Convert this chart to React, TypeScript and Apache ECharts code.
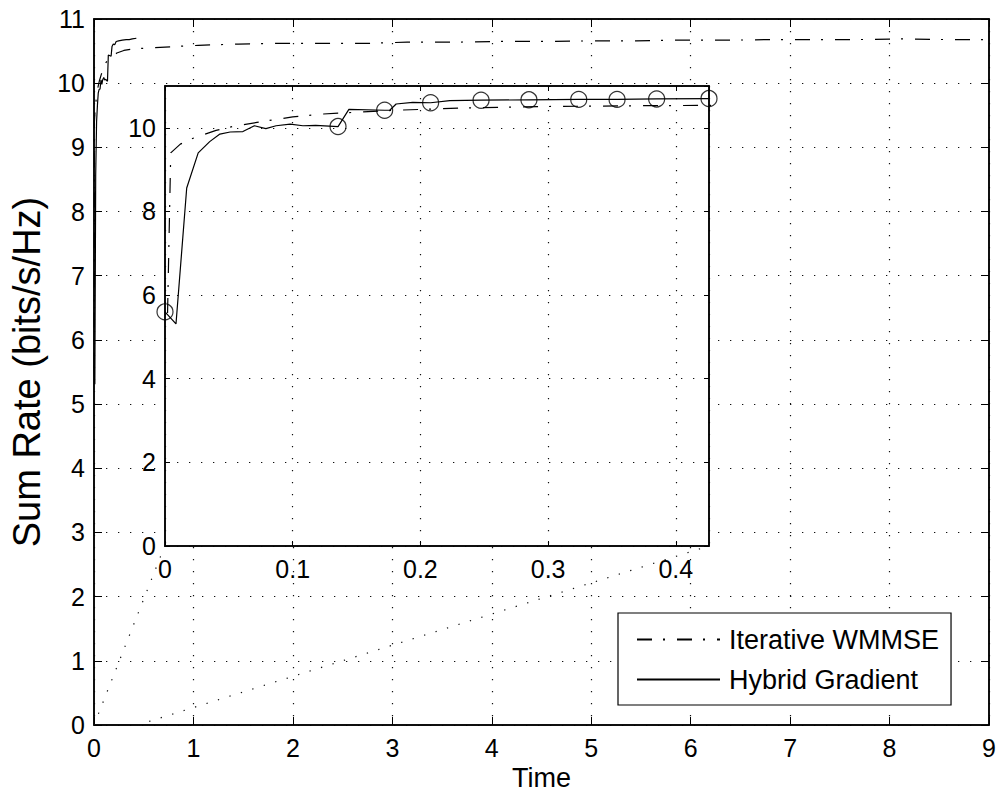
import React, { useEffect, useRef } from 'react';
import * as echarts from 'echarts';

const FONT = '"Liberation Sans", Arial, Helvetica, sans-serif';

// ---- data ----
const seriesNames = ['Iterative WMMSE', 'Hybrid Gradient'];

const wmmseTime = [0.002, 0.0045, 0.012, 0.022, 0.040, 0.053, 0.072, 0.100, 0.124, 0.142, 0.18, 0.23, 0.30, 0.38, 0.45, 0.8, 1.05, 1.45, 1.85, 2.35, 2.75, 3.15, 3.65, 4.1, 4.5, 5.05, 5.45, 5.85, 6.4, 6.8, 7.2, 7.7, 8.15, 8.55, 9.0];
const wmmseRate = [5.57, 9.40, 9.61, 9.75, 9.94, 10.03, 10.13, 10.26, 10.33, 10.36, 10.42, 10.47, 10.51, 10.53, 10.54, 10.57, 10.59, 10.61, 10.62, 10.62, 10.62, 10.64, 10.64, 10.65, 10.65, 10.66, 10.66, 10.67, 10.67, 10.68, 10.68, 10.68, 10.69, 10.68, 10.68];

const hybridTime = [0, 0.0086, 0.017, 0.026, 0.035, 0.043, 0.051, 0.061, 0.070, 0.079, 0.087, 0.098, 0.108, 0.118, 0.1355, 0.144, 0.172, 0.176, 0.181, 0.194, 0.208, 0.223, 0.2475, 0.285, 0.324, 0.354, 0.385, 0.426];
const hybridRate = [5.60, 5.31, 8.56, 9.40, 9.67, 9.85, 9.90, 9.91, 10.05, 9.98, 10.05, 10.09, 10.05, 10.06, 10.03, 10.44, 10.42, 10.42, 10.57, 10.61, 10.60, 10.65, 10.66, 10.67, 10.68, 10.68, 10.69, 10.70];
// indices of the hybrid points that carry a circle marker in the inset
const hybridMarkerIdx = [0, 14, 16, 20, 22, 23, 24, 25, 26, 27];

// dotted guide lines from the zoomed region to the inset corners (main-axes data units)
const guideStart = [[0, 0], [0.44, 0]];
const guideEnd = [[0.711, 2.79], [6.186, 2.79]];

const mainXRange = [0, 9];
const mainYRange = [0, 11];
const insetXRange = [0, 0.426];
const insetYRange = [0, 11];

const zip = (xs: number[], ys: number[]) => xs.map((x, i) => [x, ys[i]]);

const BLACK = '#000';
const DOTS = [1.3, 10.7];
const DASHDOT = [15, 11, 2, 12];

function App() {
  const ref = useRef<HTMLDivElement>(null);

  useEffect(() => {
    if (!ref.current) return;
    const chart = echarts.init(ref.current, null, { renderer: 'svg' });

    const labelStyle = { color: BLACK, fontSize: 25, fontFamily: FONT };
    const axisLine = { show: true, onZero: false, lineStyle: { color: BLACK, width: 1.5 } };
    const grid = { show: true, lineStyle: { color: '#111', width: 1.2, type: DOTS } };

    const mkX = (gridIndex: number, pos: string, range: number[], interval: number, labels: boolean, tickLen: number, z: number, extra: any = {}) => ({
      type: 'value', gridIndex, position: pos, min: range[0], max: range[1], interval,
      axisLine, z,
      axisTick: { show: true, inside: true, length: tickLen, lineStyle: { color: BLACK, width: 1 } },
      axisLabel: labels ? { show: true, ...labelStyle, margin: 10, showMaxLabel: gridIndex === 1 ? false : true } : { show: false },
      splitLine: labels ? grid : { show: false },
      ...extra,
    });
    const mkY = (gridIndex: number, pos: string, range: number[], interval: number, labels: boolean, tickLen: number, z: number, extra: any = {}) => ({
      type: 'value', gridIndex, position: pos, min: range[0], max: range[1], interval,
      axisLine, z,
      axisTick: { show: true, inside: true, length: tickLen, lineStyle: { color: BLACK, width: 1 } },
      axisLabel: labels ? { show: true, ...labelStyle, margin: 9, showMaxLabel: gridIndex === 1 ? false : true } : { show: false },
      splitLine: labels ? grid : { show: false },
      ...extra,
    });

    const option: any = {
      animation: false,
      backgroundColor: '#fff',
      textStyle: { fontFamily: FONT },
      grid: [
        { left: 94, right: 11, top: 19, bottom: 73, show: true, backgroundColor: '#fff', borderColor: BLACK, borderWidth: 1.5, z: 0 },
        { left: 165, right: 291, top: 86, bottom: 252, show: true, backgroundColor: '#fff', borderColor: BLACK, borderWidth: 1.5, z: 3 },
      ],
      xAxis: [
        mkX(0, 'bottom', mainXRange, 1, true, 8, 0, {
          name: 'Time', nameLocation: 'middle', nameGap: 26,
          nameTextStyle: { color: BLACK, fontSize: 27, fontFamily: FONT },
        }),
        mkX(0, 'top', mainXRange, 1, false, 8, 0),
        mkX(1, 'bottom', insetXRange, 0.1, true, 5, 4),
        mkX(1, 'top', insetXRange, 0.1, false, 5, 4),
      ],
      yAxis: [
        mkY(0, 'left', mainYRange, 1, true, 8, 0, {
          name: 'Sum Rate (bits/s/Hz)', nameLocation: 'middle', nameGap: 48, nameRotate: 90,
          nameTextStyle: { color: BLACK, fontSize: 38, fontFamily: FONT },
        }),
        mkY(0, 'right', mainYRange, 1, false, 8, 0),
        mkY(1, 'left', insetYRange, 2, true, 5, 4),
        mkY(1, 'right', insetYRange, 2, false, 5, 4),
      ],
      legend: {
        data: seriesNames,
        orient: 'vertical',
        left: 618, top: 613,
        itemWidth: 83, itemHeight: 14, itemGap: 13,
        padding: [13, 12, 12, 18],
        backgroundColor: '#fff', borderColor: BLACK, borderWidth: 1.2, borderRadius: 0,
        selectedMode: false,
        itemStyle: { opacity: 0, borderWidth: 0 },
        textStyle: { color: BLACK, fontSize: 27, fontFamily: FONT, lineHeight: 26, padding: [0, 0, 0, 4] },
        z: 6,
      },
      series: [
        {
          name: seriesNames[0], type: 'line', xAxisIndex: 0, yAxisIndex: 0,
          data: zip(wmmseTime, wmmseRate), symbol: 'none', silent: true, z: 2,
          itemStyle: { color: BLACK },
          lineStyle: { color: BLACK, width: 1.2, type: DASHDOT },
        },
        {
          name: seriesNames[1], type: 'line', xAxisIndex: 0, yAxisIndex: 0,
          data: zip(hybridTime, hybridRate), symbol: 'none', silent: true, z: 2,
          itemStyle: { color: BLACK },
          lineStyle: { color: BLACK, width: 1.2, type: 'solid' },
        },
        ...guideStart.map((s, i) => ({
          name: 'guide' + i, type: 'line', xAxisIndex: 0, yAxisIndex: 0,
          data: [s, guideEnd[i]], symbol: 'none', silent: true, z: 1,
          lineStyle: { color: '#111', width: 1.2, type: DOTS },
        })),
        {
          name: seriesNames[0], type: 'line', xAxisIndex: 2, yAxisIndex: 2,
          data: zip(wmmseTime, wmmseRate), symbol: 'none', silent: true, z: 5, clip: true,
          itemStyle: { color: BLACK },
          lineStyle: { color: BLACK, width: 1.2, type: DASHDOT },
        },
        {
          name: seriesNames[1], type: 'line', xAxisIndex: 2, yAxisIndex: 2,
          data: zip(hybridTime, hybridRate), symbol: 'none', silent: true, z: 5, clip: true,
          itemStyle: { color: BLACK },
          lineStyle: { color: BLACK, width: 1.2, type: 'solid' },
        },
        {
          name: 'markers', type: 'scatter', xAxisIndex: 2, yAxisIndex: 2,
          data: hybridMarkerIdx.map((k) => [hybridTime[k], hybridRate[k]]),
          symbol: 'circle', symbolSize: 16, silent: true, z: 6, clip: false,
          itemStyle: { color: 'rgba(0,0,0,0)', borderColor: BLACK, borderWidth: 1.2 },
        },
      ],
    };

    chart.setOption(option);
    return () => chart.dispose();
  }, []);

  return <div ref={ref} style={{ position: 'fixed', left: 0, top: 0, width: 1000, height: 798 }} />;
}

export default App;
